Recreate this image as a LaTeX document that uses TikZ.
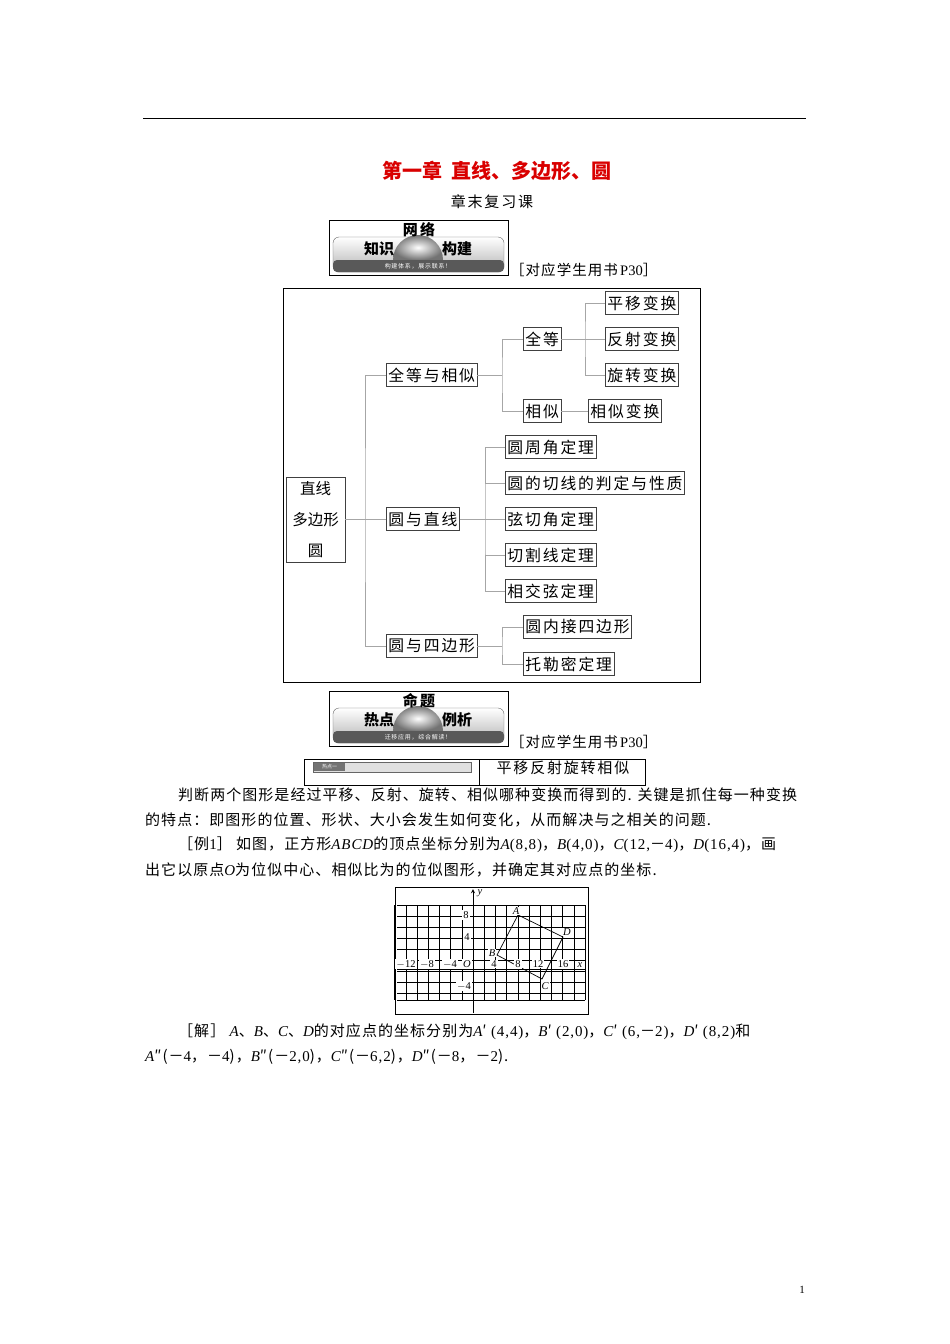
\documentclass[tikz,border=0pt]{standalone}
\usepackage{fontspec}
\setmainfont{Noto Sans CJK SC}
\newfontfamily\pfont[LetterSpace=7]{Noto Sans CJK SC}
\newfontfamily\bfont[LetterSpace=12]{Noto Sans CJK SC}
\newfontfamily\lat[LetterSpace=6]{Liberation Serif}
\newfontfamily\glat{Liberation Serif}
\usetikzlibrary{shadings}
\begin{document}
\begin{tikzpicture}[x=1pt,y=-1pt,
  bx/.style={draw=black!75,line width=0.9pt,inner sep=2pt,minimum height=23pt,font=\bfont\fontsize{15.8}{17}\selectfont,anchor=west},
  ln/.style={draw=black!35,line width=0.7pt},
  para/.style={anchor=west,inner sep=0pt,font=\pfont\fontsize{15}{18}\selectfont},
  ref/.style={anchor=south west,inner sep=0pt,font=\pfont\fontsize{14.5}{17}\selectfont}]
\useasboundingbox (0,0) rectangle (950,1344);
\fill[white] (0,0) rectangle (950,1344);
\draw[line width=0.8pt] (143,118) -- (806,118);
\node[text=red!85!black,font=\fontsize{20}{24}\selectfont\bfseries] (title) at (497,171) {第一章\ \ 直线、多边形、圆};
\node[font=\bfont\fontsize{15}{18}\selectfont] (sub) at (492,202) {章末复习课};
% banners
\foreach \y/\big/\small/\top in {220/知识\hspace{48pt}构建/构建体系，展示联系！/网\,络, 691/热点\hspace{48pt}例析/迁移应用，综合解读！/命\,题}{
  \draw[line width=0.8pt] (329,\y) rectangle (508,\y+55);
  \shade[top color=white,bottom color=black!30,rounded corners=6pt,draw=black!60] (333,\y+17) rectangle (504,\y+52);
  \shade[inner color=white,outer color=black!55] (393,\y+40) arc[start angle=180,end angle=360,radius=25] -- cycle;
  \fill[black!65,rounded corners=4pt] (333,\y+40) rectangle (504,\y+52);
  \node[font=\fontsize{15}{17}\selectfont\bfseries] at (418,\y+29) {\big};
  \node[font=\fontsize{15}{17}\selectfont\bfseries\itshape] at (419,\y+10) {\top};
  \node[text=white,font=\bfont\fontsize{6}{7}\selectfont] at (418,\y+46.5) {\small};
}
\node[ref] (r1) at (510,277) {［对应学生用书\,{\glat P30}］};
\node[ref] (r2) at (510,749) {［对应学生用书\,{\glat P30}］};
% tree frame
\draw[line width=0.9pt] (283,288) rectangle (700,682);
\node[draw=black!75,line width=0.9pt,minimum width=59pt,minimum height=85pt,align=center,font=\fontsize{15.5}{31}\selectfont,inner sep=0pt] (root) at (315.5,519.5) {直线\\多边形\\圆};
\node[bx] (qx) at (386,375) {全等与相似};
\node[bx] (yz) at (386,519) {圆与直线};
\node[bx] (ys) at (386,646) {圆与四边形};
\node[bx] (qd) at (523,339) {全等};
\node[bx] (xs) at (523,411) {相似};
\node[bx] (p1) at (605,303) {平移变换};
\node[bx] (p2) at (605,339) {反射变换};
\node[bx] (p3) at (605,375) {旋转变换};
\node[bx] (xb) at (588,411) {相似变换};
\node[bx] (c1) at (505,447) {圆周角定理};
\node[bx] (c2) at (505,483) {圆的切线的判定与性质};
\node[bx] (c3) at (505,519) {弦切角定理};
\node[bx] (c4) at (505,555) {切割线定理};
\node[bx] (c5) at (505,591) {相交弦定理};
\node[bx] (s1) at (523,627) {圆内接四边形};
\node[bx] (s2) at (523,664) {托勒密定理};
\draw[ln] (root.east) -- (365,519.5);
\draw[ln] (qx.west) -| (365,519.5) |- (ys.west);
\draw[ln] (365,519) -- (yz.west);
\draw[ln] (qx.east) -- (502,375);
\draw[ln] (qd.west) -| (502,375) |- (xs.west);
\draw[ln] (qd.east) -- (585,339);
\draw[ln] (p1.west) -| (585,339) |- (p3.west);
\draw[ln] (585,339) -- (p2.west);
\draw[ln] (xs.east) -- (xb.west);
\draw[ln] (yz.east) -- (485,519);
\draw[ln] (c1.west) -| (485,519) |- (c5.west);
\foreach \c in {c2,c3,c4} \draw[ln] (485,0|-\c.west) -- (\c.west);
\draw[ln] (ys.east) -- (502,646);
\draw[ln] (s1.west) -| (502,646) |- (s2.west);
% hot spot row
\draw[line width=0.8pt] (304,759) rectangle (645,785);
\draw[line width=0.8pt] (479,759) -- (479,785);
\draw[black!60,fill=black!12] (313,762) rectangle (471,772);
\fill[black!55] (314,763) rectangle (345,771);
\node[text=white,font=\fontsize{5}{6}\selectfont,inner sep=0pt] (hs) at (329.5,767) {热点一};
\node[font=\bfont\fontsize{15}{18}\selectfont] (hr) at (563,768) {平移反射旋转相似};
% paragraphs
\node[para] (l1) at (178,795) {判断两个图形是经过平移、反射、旋转、相似哪种变换而得到的. 关键是抓住每一种变换};
\node[para] (l2) at (145,820) {的特点：即图形的位置、形状、大小会发生如何变化，从而解决与之相关的问题.};
\node[para] (l3) at (178,845) {［例{\lat 1}］\ 如图，正方形{\lat\itshape ABCD}的顶点坐标分别为{\lat\itshape A}{\lat(8,8)}，{\lat\itshape B}{\lat(4,0)}，{\lat\itshape C}{\lat(12,}－{\lat 4)}，{\lat\itshape D}{\lat(16,4)}，画};
\node[para] (l4) at (145,870) {出它以原点{\lat\itshape O}为位似中心、相似比为的位似图形，并确定其对应点的坐标.};
\node[para] (l5) at (178,1032) {［解］\ {\lat\itshape A}、{\lat\itshape B}、{\lat\itshape C}、{\lat\itshape D}的对应点的坐标分别为{\lat\itshape A}′\ {\lat(4,4)}，{\lat\itshape B}′\ {\lat(2,0)}，{\lat\itshape C}′\ {\lat(6,}－{\lat2)}，{\lat\itshape D}′\ {\lat(8,2)}和};
\node[para] (l6) at (145,1057) {{\lat\itshape A}″(－{\lat4}，－{\lat4})，{\lat\itshape B}″(－{\lat2,0})，{\lat\itshape C}″(－{\lat6,2})，{\lat\itshape D}″(－{\lat8}，－{\lat2}).};
% graph
\draw[line width=0.8pt] (395,887) rectangle (588,1014);
\begin{scope}[shift={(473,969)}]
  \foreach \u in {-14,-12,...,20} \draw[line width=0.5pt] (\u*5.6,-64) -- (\u*5.6,31);
  \foreach \v in {-64,-53,...,31} \draw[line width=0.5pt] (-76,\v) -- (112,\v);
  \draw[line width=0.5pt] (-76,31) -- (112,31);
  \draw[line width=0.9pt] (-76,0) -- (112,0);
  \draw[line width=0.9pt,-stealth] (0,44) -- (0,-80);
\end{scope}
\draw[line width=0.7pt] (518,915) -- (497,955) -- (542,979) -- (563,937) -- cycle;
\begin{scope}[font=\glat\fontsize{10.5}{12}\selectfont,inner sep=1pt]
\node[fill=white] at (466,915) {8};
\node[fill=white] at (467,937) {4};
\node[fill=white] at (464,986) {$-$4};
\node[fill=white] at (467,964) {\itshape O};
\node[fill=white] at (406,964) {$-$12};
\node[fill=white] at (427,964) {$-$8};
\node[fill=white] at (450,964) {$-$4};
\node[fill=white] at (494,964) {4};
\node[fill=white] at (518,964) {8};
\node[fill=white] at (538,964) {12};
\node[fill=white] at (563,964) {16};
\node[fill=white] at (580,965) {\itshape x};
\node[fill=white] at (480,893) {\itshape y};
\node[fill=white] at (516,911) {\itshape A};
\node[fill=white] at (492,953) {\itshape B};
\node[fill=white] at (545,986) {\itshape C};
\node[fill=white] at (567,932) {\itshape D};
\end{scope}
\node[font=\glat\fontsize{11}{12}\selectfont] (pg) at (802,1290) {1};
\end{tikzpicture}
\end{document}
